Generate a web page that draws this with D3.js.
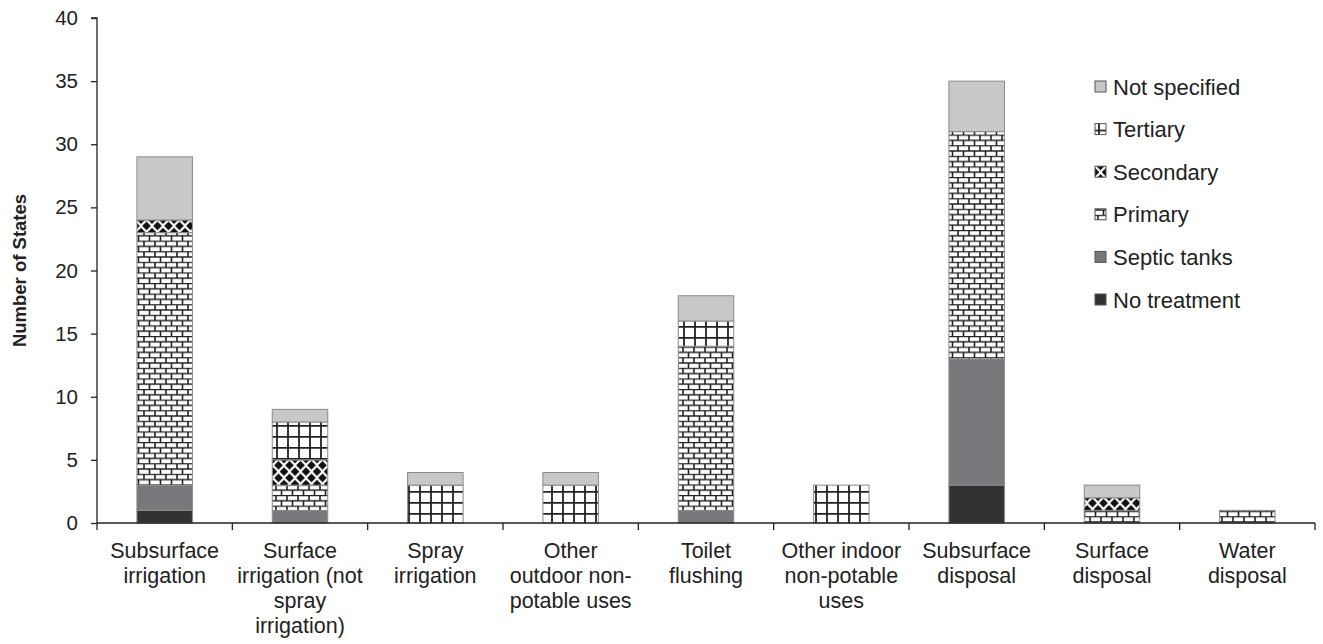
<!DOCTYPE html>
<html>
<head>
<meta charset="UTF-8">
<title>Number of States by reuse type and treatment level</title>
<style>
  body { margin: 0; background: #fff; }
  text { font-family: "Liberation Sans", Arial, sans-serif; fill: #222; }
  .axis path, .axis line { stroke: #222; stroke-width: 1.3px; }
</style>
</head>
<body>
<svg width="1323" height="644" id="chart"></svg>
<script src="https://cdn.jsdelivr.net/npm/d3@7/dist/d3.min.js"></script>
<script>
// categories (label lines split by "|")
var categories = [
  "Subsurface|irrigation",
  "Surface|irrigation (not|spray|irrigation)",
  "Spray|irrigation",
  "Other|outdoor non-|potable uses",
  "Toilet|flushing",
  "Other indoor|non-potable|uses",
  "Subsurface|disposal",
  "Surface|disposal",
  "Water|disposal"
];
var seriesNames = ["No treatment", "Septic tanks", "Primary", "Secondary", "Tertiary", "Not specified"];

var noTreatment  = [1, 0, 0, 0, 0, 0, 3, 0, 0];
var septicTanks  = [2, 1, 0, 0, 1, 0, 10, 0, 0];
var primary      = [20, 2, 0, 0, 13, 0, 18, 1, 1];
var secondary    = [1, 2, 0, 0, 0, 0, 0, 1, 0];
var tertiary     = [0, 3, 3, 3, 2, 3, 0, 0, 0];
var notSpecified = [5, 1, 1, 1, 2, 0, 4, 1, 0];
var yTicks = [0, 5, 10, 15, 20, 25, 30, 35, 40];

var seriesValues = [noTreatment, septicTanks, primary, secondary, tertiary, notSpecified];
var table = categories.map(function (c, i) {
  var row = { cat: c };
  seriesNames.forEach(function (s, j) { row[s] = seriesValues[j][i]; });
  return row;
});

var svg = d3.select("#chart");
var margin = { top: 18, right: 8, bottom: 121, left: 97 };
var width = 1315 - margin.left, height = 523 - margin.top;

var defs = svg.append("defs");

// brick pattern (primary)
var brick = defs.append("pattern").attr("id", "brick").attr("patternUnits", "userSpaceOnUse")
  .attr("width", 22).attr("height", 10.6);
brick.append("rect").attr("width", 22).attr("height", 10.6).attr("fill", "#fff");
brick.append("path")
  .attr("d", "M0,0.5H22M0,5.8H22M3,0V5.8M14,0V5.8M8.5,5.8V10.6M19.5,5.8V10.6")
  .attr("stroke", "#222").attr("stroke-width", 1.6).attr("fill", "none");

// grid pattern (tertiary)
var grid = defs.append("pattern").attr("id", "grid").attr("patternUnits", "userSpaceOnUse")
  .attr("width", 11).attr("height", 11);
grid.append("rect").attr("width", 11).attr("height", 11).attr("fill", "#fff");
grid.append("path").attr("d", "M0,0.8H11M4,0V11")
  .attr("stroke", "#222").attr("stroke-width", 1.8).attr("fill", "none");

// diamond pattern (secondary)
var dia = defs.append("pattern").attr("id", "diamond").attr("patternUnits", "userSpaceOnUse")
  .attr("width", 11).attr("height", 12.6);
dia.append("rect").attr("width", 11).attr("height", 12.6).attr("fill", "#fff");
function dm(cx, cy) {
  var r = 4.4;
  return "M" + cx + "," + (cy - r) + "L" + (cx + r) + "," + cy + "L" + cx + "," + (cy + r) + "L" + (cx - r) + "," + cy + "Z";
}
dia.append("path")
  .attr("d", dm(5.5, 6.3) + dm(0, 0) + dm(11, 0) + dm(0, 12.6) + dm(11, 12.6))
  .attr("fill", "#111");

var fills = {
  "No treatment": "#333132",
  "Septic tanks": "#77787b",
  "Primary": "url(#brick)",
  "Secondary": "url(#diamond)",
  "Tertiary": "url(#grid)",
  "Not specified": "#c8c8c9"
};

var g = svg.append("g").attr("transform", "translate(" + margin.left + "," + margin.top + ")");

var x = d3.scaleBand().domain(categories).range([0, width]).paddingInner(0.59).paddingOuter(0.295);
var y = d3.scaleLinear().domain([0, 40]).range([height, 0]);

var stacked = d3.stack().keys(seriesNames)(table);

g.selectAll(".layer").data(stacked).enter().append("g")
  .attr("class", "layer")
  .attr("fill", function (d) { return fills[d.key]; })
  .selectAll("rect").data(function (d) { return d.filter(function (p) { return p[1] > p[0]; }); })
  .enter().append("rect")
  .attr("x", function (d) { return x(d.data.cat); })
  .attr("width", x.bandwidth())
  .attr("y", function (d) { return y(d[1]); })
  .attr("height", function (d) { return y(d[0]) - y(d[1]); })
  .attr("stroke", "#8a8a8a").attr("stroke-width", 1);

// y axis
g.append("g").attr("class", "axis")
  .call(d3.axisLeft(y).tickValues(yTicks).tickSize(6).tickPadding(13))
  .call(function (a) { a.select(".domain").attr("d", "M-6," + y(40) + "H0V" + height); })
  .selectAll("text").style("font-size", "20.5px").attr("fill", "#222");

// x axis with ticks at band boundaries
var xa = g.append("g").attr("class", "axis").attr("transform", "translate(0," + height + ")");
xa.append("path").attr("d", "M0,0H" + width).attr("stroke", "#222").attr("stroke-width", 1.3);
var step = x.step();
xa.selectAll(".bt").data(d3.range(categories.length + 1)).enter().append("line")
  .attr("x1", function (i) { return i * step; }).attr("x2", function (i) { return i * step; })
  .attr("y1", 0).attr("y2", 7).attr("stroke", "#222").attr("stroke-width", 1.3);

xa.selectAll(".lab").data(categories).enter().append("text")
  .attr("text-anchor", "middle")
  .attr("x", function (d) { return x(d) + x.bandwidth() / 2; })
  .style("font-size", "21.5px")
  .each(function (d) {
    var t = d3.select(this);
    d.split("|").forEach(function (line, i) {
      t.append("tspan").attr("x", x(d) + x.bandwidth() / 2).attr("y", 35 + i * 25).text(line);
    });
  });

// y title
svg.append("text")
  .attr("transform", "translate(26," + (margin.top + height / 2) + ") rotate(-90)")
  .attr("text-anchor", "middle")
  .style("font-size", "18.5px").style("font-weight", "bold")
  .text("Number of States");

// legend
var legendOrder = seriesNames.slice().reverse();
var lg = svg.append("g").attr("transform", "translate(1095,87)");
var li = lg.selectAll(".li").data(legendOrder).enter().append("g")
  .attr("transform", function (d, i) { return "translate(0," + (i * 42.6) + ")"; });
li.append("rect").attr("x", 0).attr("y", -6).attr("width", 11).attr("height", 11)
  .attr("fill", function (d) { return fills[d]; })
  .attr("stroke", "#555").attr("stroke-width", 1);
li.append("text").attr("x", 18).attr("y", 7.5).style("font-size", "22px").text(function (d) { return d; });
</script>
</body>
</html>
